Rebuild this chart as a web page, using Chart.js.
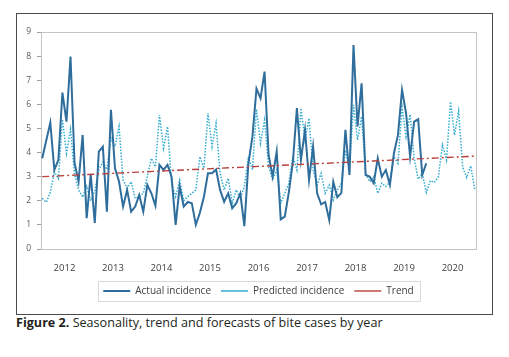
<!DOCTYPE html>
<html>
<head>
<meta charset="utf-8">
<script src="https://cdn.jsdelivr.net/npm/chart.js@4.4.1/dist/chart.umd.min.js"></script>
<style>
html,body{margin:0;padding:0;background:#fff;}
body{width:509px;height:357px;position:relative;overflow:hidden;}
#frame{position:absolute;left:16px;top:13px;width:477px;height:302px;border:1px solid #4a4a4a;box-sizing:border-box;}
#c{position:absolute;left:0;top:0;}
#cap{position:absolute;left:16px;top:314px;font-family:"Open Sans",sans-serif;font-size:12.6px;line-height:18px;color:#231f20;white-space:nowrap;}
#cap b{font-weight:700;}
</style>
</head>
<body>
<div id="frame"></div>
<canvas id="c" width="509" height="312"></canvas>
<div id="cap"><b>Figure 2.</b> Seasonality, trend and forecasts of bite cases by year</div>
<script>
// Year labels (each centred on its 12 months), monthly series starting January 2012
const yearLabels = ["2012","2013","2014","2015","2016","2017","2018","2019","2020"];
const yTicks = [0,1,2,3,4,5,6,7,8,9];

const actualIncidence = [
  3.76,4.5,5.24,3.28,3.7,6.49,5.28,7.98,3.57,2.8,4.73,1.28,
  3.1,1.08,4.04,4.25,1.55,5.77,3.35,2.8,1.76,2.45,1.55,1.76,
  2.24,1.55,2.66,2.31,1.8,3.49,3.28,3.49,3.0,1.0,2.6,1.76,
  1.95,1.9,1.0,1.5,2.17,3.14,3.14,3.3,2.45,1.96,2.31,1.69,
  1.9,2.31,0.95,3.55,4.66,6.65,6.25,7.36,3.9,3.0,4.04,1.23,
  1.34,2.35,3.6,5.84,3.7,4.94,2.86,4.25,2.31,1.85,1.95,1.2,
  2.79,2.15,2.33,4.94,3.07,8.46,5.08,6.87,3.07,3.0,2.73,3.76,
  3.0,3.28,2.66,3.97,4.73,6.6,5.63,3.83,5.28,5.38,3.07,3.55
];

const predictedIncidence = [
  2.1,1.94,2.35,3.2,2.92,5.38,3.97,4.97,3.1,2.45,2.15,2.6,
  2.0,2.4,3.3,3.6,3.3,4.6,4.25,5.08,2.86,2.52,2.79,2.1,
  2.17,2.31,3.0,3.76,3.41,5.56,4.18,5.08,2.73,2.17,2.86,2.0,
  2.17,2.31,2.45,3.83,3.35,5.63,4.25,5.21,3.14,2.45,2.93,1.9,
  2.45,2.1,2.59,3.83,3.28,5.8,4.38,5.35,3.41,2.86,3.28,1.9,
  2.31,2.73,3.83,3.28,5.84,4.52,5.42,3.28,2.66,3.14,2.31,2.65,
  2.03,2.45,2.73,4.1,3.28,5.98,4.52,5.49,3.14,2.79,3.0,2.31,
  2.73,2.59,2.79,3.83,3.55,5.9,4.66,5.58,3.76,2.9,3.14,2.35,
  2.83,2.76,3.0,4.32,3.69,6.11,4.73,5.72,3.4,2.96,3.45,2.45
];

// Linear trend: value at first and last month
const trendMonths = [0,107];
const trendValues = [3.0,3.85];

const toPoints = arr => arr.map((v,i)=>({x:i,y:v}));

const frame = {
  id:'frame',
  beforeDatasetsDraw(chart){
    const a = chart.chartArea, ctx = chart.ctx;
    ctx.save();
    ctx.strokeStyle = '#c4c4c4';
    ctx.lineWidth = 1;
    ctx.strokeRect(Math.round(a.left)+0.5, Math.round(a.top)+0.5, Math.round(a.right-a.left), Math.round(a.bottom-a.top));
    ctx.restore();
  },
  afterDraw(chart){
    const hb = chart.legend && chart.legend.legendHitBoxes;
    if(!hb || !hb.length) return;
    const ctx = chart.ctx;
    let l = Infinity, r = -Infinity, t = Infinity, b = -Infinity;
    hb.forEach(h=>{l=Math.min(l,h.left);r=Math.max(r,h.left+h.width);t=Math.min(t,h.top);b=Math.max(b,h.top+h.height);});
    ctx.save();
    ctx.strokeStyle = '#d9d9d9';
    ctx.lineWidth = 1;
    ctx.strokeRect(Math.round(l-5)+0.5, Math.round(t-5)+0.5, Math.round(r-l+12), Math.round(b-t+10));
    ctx.restore();
  }
};

new Chart(document.getElementById('c'), {
  type:'line',
  data:{
    datasets:[
      {label:'Actual incidence', data:toPoints(actualIncidence), borderColor:'#2f6e9c', backgroundColor:'#2f6e9c', borderWidth:2, pointRadius:0, tension:0, order:1},
      {label:'Predicted incidence', data:toPoints(predictedIncidence), borderColor:'#34acd0', backgroundColor:'#34acd0', borderWidth:1.5, borderDash:[1.5,1.5], pointRadius:0, tension:0, order:2},
      {label:'Trend', data:trendMonths.map((m,i)=>({x:m,y:trendValues[i]})), borderColor:'#b8413d', backgroundColor:'#b8413d', borderWidth:1.4, borderDash:[7,3,2,3], pointRadius:0, tension:0, order:0}
    ]
  },
  options:{
    responsive:false,
    animation:false,
    devicePixelRatio:1,
    layout:{padding:{left:17,right:33,top:32,bottom:6}},
    scales:{
      x:{
        type:'linear', min:-0.3, max:107.3,
        grid:{display:false},
        border:{display:false},
        afterBuildTicks(scale){ scale.ticks = yearLabels.map((y,k)=>({value:12*k+5.5})); },
        afterFit(scale){ scale.height = 27; },
        ticks:{
          autoSkip:false, maxRotation:0, padding:6,
          color:'#404040', font:{family:'Open Sans', size:9.5},
          callback:(v,idx)=>yearLabels[idx]
        }
      },
      y:{
        min:0, max:9,
        afterBuildTicks(scale){ scale.ticks = yTicks.map(v=>({value:v})); },
        afterFit(scale){ scale.width = 24; },
        grid:{display:true, drawOnChartArea:false, drawTicks:true, tickLength:4, color:'#a0a0a0'},
        border:{display:false},
        ticks:{padding:6, color:'#595959', font:{family:'Open Sans', size:8.5}}
      }
    },
    plugins:{
      legend:{
        position:'bottom', fullSize:false,
        labels:{usePointStyle:true, pointStyle:'line', pointStyleWidth:27, padding:10, color:'#404040', font:{family:'Open Sans', size:10},
          sort:(a,b)=>a.datasetIndex-b.datasetIndex}
      },
      tooltip:{enabled:false}
    }
  },
  plugins:[frame]
});
</script>
</body>
</html>
